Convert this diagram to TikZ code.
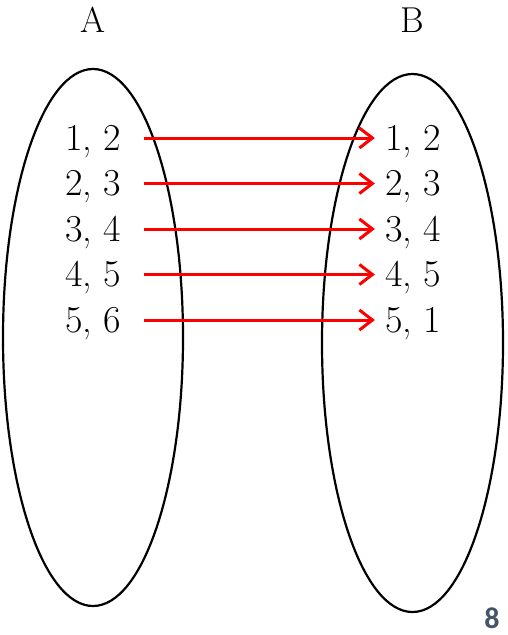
\documentclass[tikz,border=0pt]{standalone}
\usepackage{fontspec}
\usepackage{xcolor}
\usetikzlibrary{arrows.meta}
\newfontfamily\pagefont{Carlito}
\definecolor{mapred}{RGB}{255,0,0}
\definecolor{pagegray}{RGB}{68,84,106}

\begin{document}
\begin{tikzpicture}[x=1pt, y=-1pt,
    setlabel/.style={font=\fontsize{36}{36}\selectfont, anchor=base, inner sep=0pt},
    elem/.style={font=\fontsize{38}{38}\selectfont, anchor=base, inner sep=0pt,
                 text height=24pt, text depth=0pt},
    maparrow/.style={-{Straight Barb[length=13pt, width=20pt]}, mapred, line width=3pt,
                     shorten <=23pt, shorten >=10pt}]
    \useasboundingbox (0,0) rectangle (508,635);

    % Sets
    \draw[line width=2.2pt] (93,337.5) ellipse [x radius=90pt, y radius=268.5pt];
    \draw[line width=2.2pt] (412.5,343) ellipse [x radius=90.5pt, y radius=269pt];
    \node[setlabel] (setA) at (93,32) {A};
    \node[setlabel] (setB) at (412,32) {B};

    % Elements of A
    \node[elem] (a1) at (93,150) {1, 2};
    \node[elem] (a2) at (93,195.5) {2, 3};
    \node[elem] (a3) at (93,241) {3, 4};
    \node[elem] (a4) at (93,286.5) {4, 5};
    \node[elem] (a5) at (93,332) {5, 6};

    % Elements of B
    \node[elem] (b1) at (413,150) {1, 2};
    \node[elem] (b2) at (413,195.5) {2, 3};
    \node[elem] (b3) at (413,241) {3, 4};
    \node[elem] (b4) at (413,286.5) {4, 5};
    \node[elem] (b5) at (413,332) {5, 1};

    % Mapping
    \draw[maparrow] (a1.east) -- (b1.west);
    \draw[maparrow] (a2.east) -- (b2.west);
    \draw[maparrow] (a3.east) -- (b3.west);
    \draw[maparrow] (a4.east) -- (b4.west);
    \draw[maparrow] (a5.east) -- (b5.west);

    % Page number
    \node[font=\pagefont\bfseries\fontsize{30}{30}\selectfont, text=pagegray,
          anchor=base, inner sep=0pt] (pagenum) at (492,628) {8};
\end{tikzpicture}
\end{document}
